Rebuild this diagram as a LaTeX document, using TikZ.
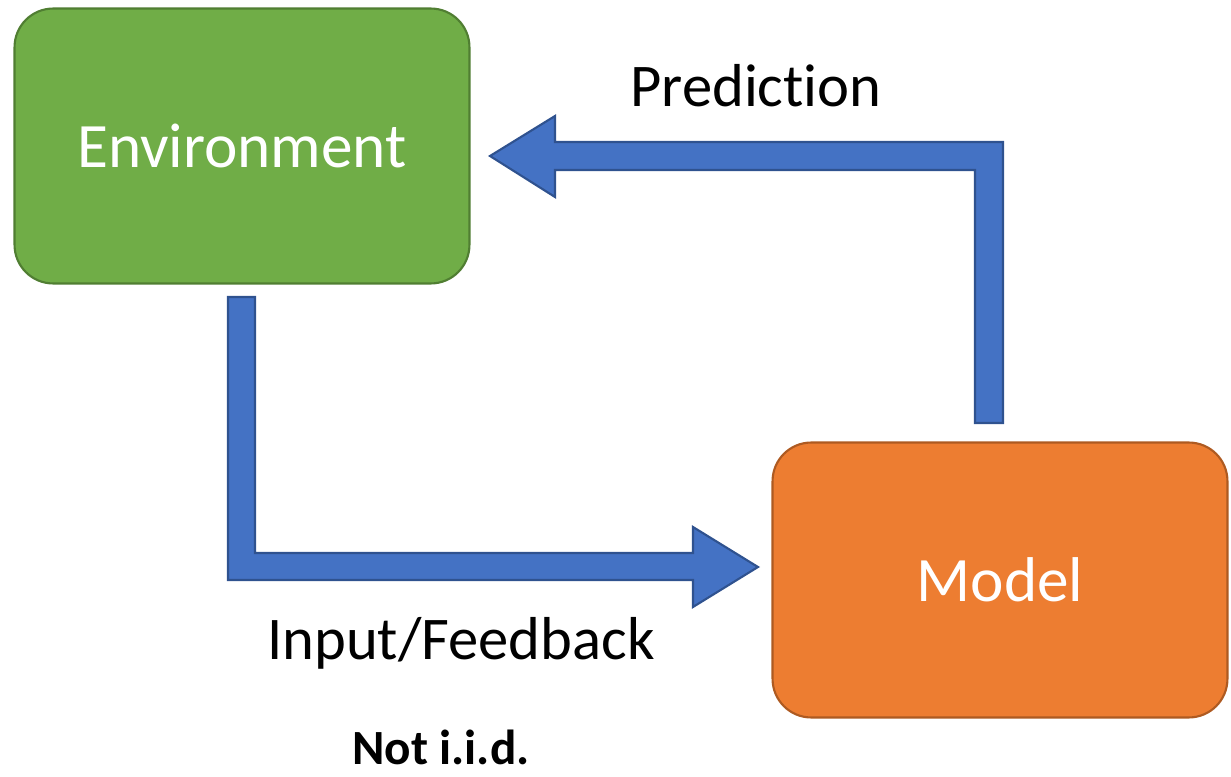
\documentclass[tikz,border=0pt]{standalone}
\usepackage{fontspec}
\setmainfont{Carlito}[Ligatures=NoCommon]
\usepackage{tikz}
\definecolor{envgreen}{HTML}{70AD47}
\definecolor{envline}{HTML}{507E32}
\definecolor{modorange}{HTML}{ED7D31}
\definecolor{modline}{HTML}{AE5A21}
\definecolor{arrblue}{HTML}{4472C4}
\definecolor{arrline}{HTML}{2F528F}
\tikzset{
  box/.style={rectangle, rounded corners=22pt, line width=1.2pt, text=white,
    minimum width=9.1cm, minimum height=5.5cm, font=\fontsize{36}{40}\selectfont},
  blockarrow/.style={fill=arrblue, draw=arrline, line width=1.2pt, line join=miter},
  label/.style={font=\fontsize{34.5}{38}\selectfont}
}

\begin{document}
\begin{tikzpicture}[x=0.02cm, y=-0.02cm]
              \useasboundingbox (0,0) rectangle (1231,777);

              \node (Env) [box, fill=envgreen, draw=envline] at (242,146) {Environment};
              \node (Mod) [box, fill=modorange, draw=modline] at (1000,580) {Model};

              % input arrow, environment to model
              \draw [blockarrow] (228,297) -- (255,297) -- (255,553) -- (693,553)
                -- (693,527) -- (758,567) -- (693,607) -- (693,580) -- (228,580) -- cycle;
              % prediction arrow, model to environment
              \draw [blockarrow] (1003,423) -- (975,423) -- (975,170) -- (555,170)
                -- (555,197) -- (490,156) -- (555,116) -- (555,142) -- (1003,142) -- cycle;

              \node (Pred) [label] at (756,86) {Prediction};
              \node (Inp) [label] at (461,643) {Input/Feedback};
              \node (Iid) [inner sep=0pt, font=\fontsize{28}{32}\selectfont\bfseries] at (441,747) {Not i.i.d.};
            \end{tikzpicture}
\end{document}
